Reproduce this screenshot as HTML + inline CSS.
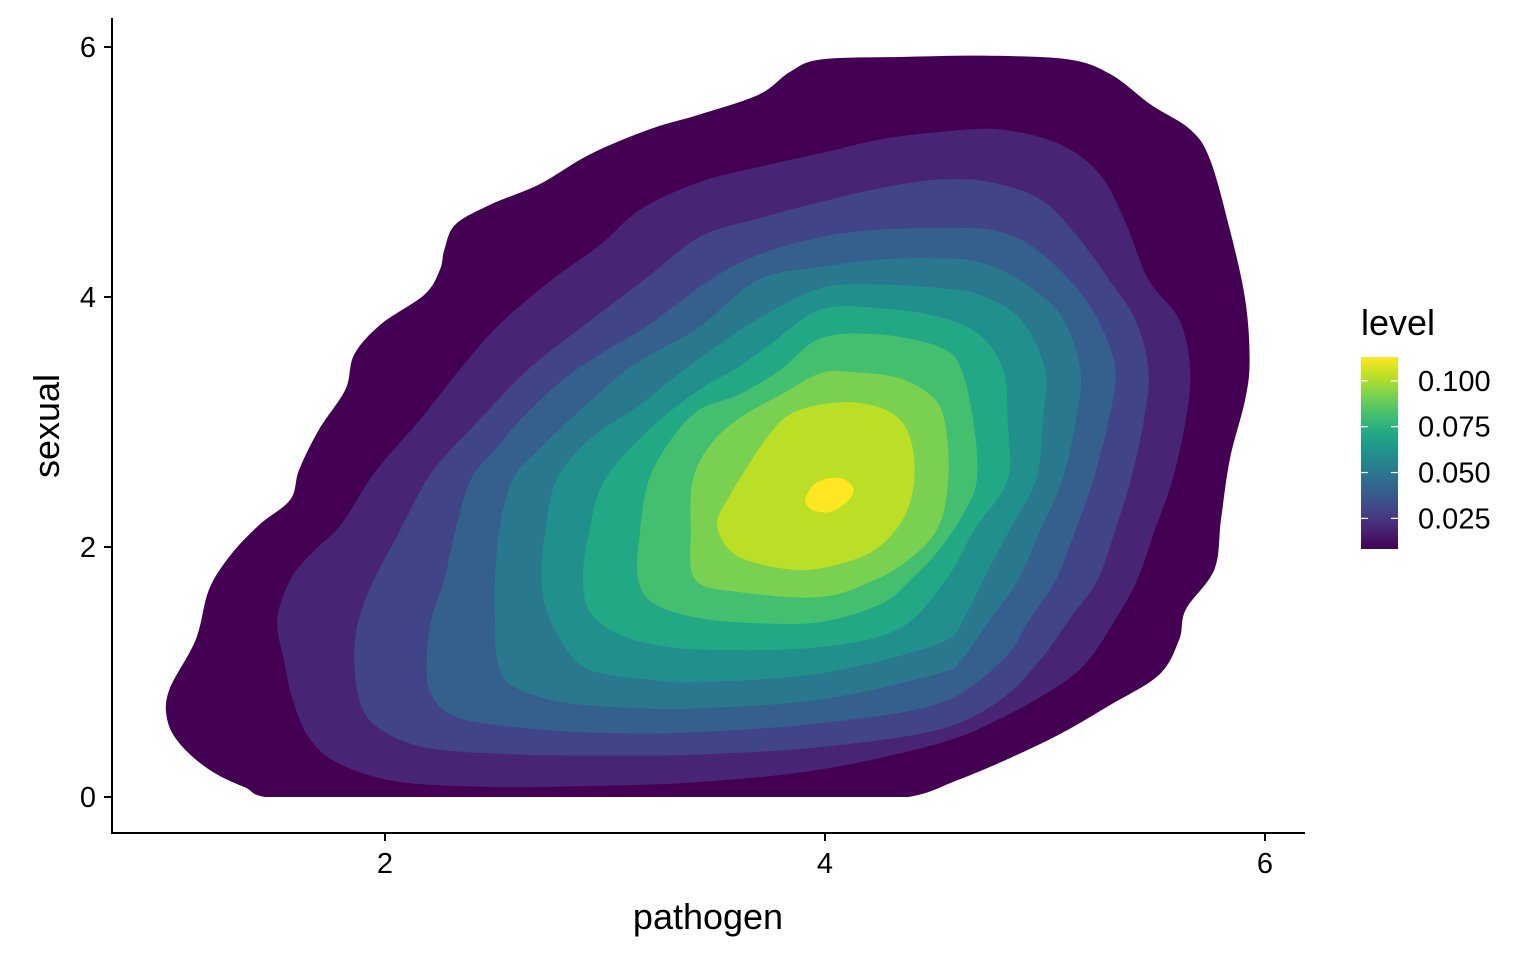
<!DOCTYPE html>
<html><head><meta charset="utf-8"><style>
html,body{margin:0;padding:0;background:#fff;}
svg{display:block;font-family:"Liberation Sans",Arial,sans-serif;}
</style></head><body>
<svg id="chart" width="1536" height="960" viewBox="0 0 1536 960">
<defs>
<clipPath id="plotclip"><rect x="112" y="10" width="1193" height="787"/></clipPath>
<linearGradient id="vir" x1="0" y1="1" x2="0" y2="0">
<stop offset="0" stop-color="#440154"/><stop offset="0.1" stop-color="#482475"/><stop offset="0.2" stop-color="#414487"/><stop offset="0.3" stop-color="#355F8D"/><stop offset="0.4" stop-color="#2A788E"/><stop offset="0.5" stop-color="#21908D"/><stop offset="0.6" stop-color="#22A884"/><stop offset="0.7" stop-color="#44BF70"/><stop offset="0.8" stop-color="#7AD151"/><stop offset="0.9" stop-color="#BBDF27"/><stop offset="1" stop-color="#FDE725"/>
</linearGradient>
</defs>
<g id="bands" clip-path="url(#plotclip)"></g>
<g id="axes"></g>
<g id="legend"></g>
</svg>
<script>
const xTicks = [2, 4, 6];
const yTicks = [0, 2, 4, 6];
const bandColors = ["#440154","#482475","#414487","#355F8D","#2A788E","#21908D","#22A884","#44BF70","#7AD151","#BBDF27","#FDE725"];
const legendTicks = [0.025, 0.05, 0.075, 0.1];
const legendTickLabels = ["0.025", "0.050", "0.075", "0.100"];
const legendDomain = [0.0083, 0.113];

const band1 = [[1.55,-0.02],[2.5,-0.1],[3.5,-0.1],[4.3,-0.02],[4.61,0.14],[5.02,0.46],[5.30,0.74],[5.52,0.98],[5.61,1.26],[5.64,1.50],[5.77,1.82],[5.80,2.22],[5.84,2.70],[5.91,3.18],[5.93,3.50],[5.91,3.98],[5.84,4.54],[5.75,5.10],[5.66,5.34],[5.48,5.54],[5.30,5.78],[5.11,5.90],[4.75,5.93],[4.34,5.92],[3.98,5.90],[3.84,5.80],[3.70,5.62],[3.43,5.46],[3.20,5.34],[2.93,5.14],[2.70,4.90],[2.48,4.74],[2.32,4.58],[2.27,4.38],[2.25,4.22],[2.18,4.02],[1.98,3.78],[1.86,3.54],[1.82,3.26],[1.70,2.94],[1.61,2.62],[1.57,2.38],[1.43,2.18],[1.30,1.94],[1.20,1.66],[1.14,1.26],[1.02,0.86],[1.01,0.62],[1.07,0.42],[1.20,0.22],[1.36,0.08]];
const band2 = [[1.66,0.46],[1.80,0.26],[2.07,0.12],[2.52,0.08],[2.98,0.09],[3.43,0.12],[3.98,0.22],[4.52,0.43],[4.80,0.63],[5.07,0.90],[5.20,1.10],[5.32,1.42],[5.42,1.74],[5.50,2.14],[5.58,2.54],[5.64,3.02],[5.66,3.42],[5.61,3.82],[5.47,4.14],[5.36,4.62],[5.25,4.98],[5.07,5.22],[4.80,5.34],[4.52,5.32],[4.25,5.26],[3.98,5.15],[3.70,5.04],[3.43,4.92],[3.16,4.70],[2.98,4.42],[2.76,4.14],[2.52,3.78],[2.34,3.42],[2.16,3.02],[2.02,2.74],[1.93,2.54],[1.80,2.18],[1.66,1.94],[1.57,1.74],[1.51,1.42],[1.54,1.10],[1.58,0.78]];
const band3 = [[1.89,0.74],[1.98,0.54],[2.20,0.39],[2.61,0.34],[3.07,0.33],[3.43,0.34],[3.98,0.40],[4.52,0.54],[4.80,0.78],[4.98,1.10],[5.11,1.42],[5.24,1.74],[5.32,2.14],[5.39,2.54],[5.45,3.02],[5.47,3.42],[5.41,3.82],[5.29,4.14],[5.14,4.50],[4.98,4.78],[4.75,4.92],[4.52,4.94],[4.25,4.87],[3.98,4.76],[3.70,4.63],[3.43,4.48],[3.18,4.14],[2.91,3.78],[2.65,3.42],[2.43,3.02],[2.30,2.78],[2.19,2.54],[2.07,2.14],[1.95,1.74],[1.88,1.42],[1.86,1.10]];
const band4 = [[2.19,1.10],[2.21,0.82],[2.34,0.63],[2.70,0.54],[3.07,0.51],[3.43,0.52],[3.98,0.59],[4.52,0.75],[4.81,1.10],[4.93,1.42],[5.05,1.74],[5.14,2.14],[5.22,2.54],[5.29,3.02],[5.32,3.42],[5.24,3.82],[5.11,4.14],[4.93,4.42],[4.75,4.54],[4.52,4.55],[4.25,4.54],[3.98,4.48],[3.70,4.34],[3.48,4.14],[3.20,3.78],[2.87,3.42],[2.66,3.10],[2.50,2.78],[2.39,2.54],[2.32,2.14],[2.27,1.74],[2.21,1.42]];
const band5 = [[2.51,1.10],[2.57,0.90],[2.80,0.76],[3.16,0.71],[3.43,0.71],[3.98,0.78],[4.52,0.99],[4.62,1.10],[4.75,1.42],[4.88,1.74],[4.98,2.14],[5.08,2.54],[5.14,3.02],[5.16,3.42],[5.07,3.86],[4.88,4.14],[4.70,4.28],[4.52,4.31],[4.25,4.30],[3.98,4.24],[3.70,4.14],[3.43,3.76],[3.25,3.58],[3.10,3.42],[2.89,3.10],[2.70,2.78],[2.58,2.54],[2.52,2.14],[2.50,1.74],[2.50,1.42]];
const band6 = [[2.86,1.10],[2.98,0.99],[3.20,0.94],[3.43,0.92],[3.98,0.99],[4.52,1.23],[4.64,1.46],[4.72,1.74],[4.84,2.14],[4.96,2.54],[4.99,3.02],[5.00,3.42],[4.89,3.82],[4.70,4.02],[4.52,4.07],[4.25,4.10],[3.98,4.07],[3.70,3.83],[3.43,3.51],[3.36,3.42],[3.16,3.14],[2.93,2.86],[2.78,2.54],[2.73,2.14],[2.71,1.74],[2.75,1.42]];
const band7 = [[2.90,1.74],[2.94,1.46],[3.11,1.27],[3.43,1.18],[3.98,1.20],[4.34,1.35],[4.55,1.74],[4.68,2.14],[4.83,2.54],[4.83,3.02],[4.81,3.42],[4.70,3.70],[4.52,3.84],[4.25,3.91],[3.98,3.90],[3.75,3.62],[3.59,3.42],[3.43,3.26],[3.20,2.94],[3.00,2.54],[2.93,2.14]];
const band8 = [[3.15,1.74],[3.23,1.54],[3.43,1.43],[3.70,1.39],[3.98,1.40],[4.25,1.54],[4.39,1.74],[4.52,1.98],[4.64,2.30],[4.69,2.54],[4.68,2.94],[4.62,3.42],[4.52,3.60],[4.25,3.70],[3.98,3.67],[3.80,3.42],[3.61,3.22],[3.43,3.10],[3.30,2.86],[3.20,2.54],[3.16,2.14]];
const band9 = [[3.41,1.74],[3.61,1.64],[3.98,1.60],[4.23,1.74],[4.41,1.94],[4.52,2.18],[4.56,2.54],[4.55,2.94],[4.50,3.18],[4.34,3.35],[4.11,3.40],[3.98,3.39],[3.80,3.22],[3.61,3.03],[3.48,2.82],[3.40,2.54],[3.39,2.14]];
const band10 = [[3.51,2.18],[3.59,1.94],[3.80,1.83],[3.98,1.83],[4.20,1.95],[4.34,2.18],[4.40,2.46],[4.40,2.78],[4.34,3.02],[4.20,3.14],[4.02,3.15],[3.84,3.06],[3.73,2.86],[3.64,2.62],[3.57,2.42]];
const band11 = [[3.91,2.38],[3.94,2.30],[4.02,2.28],[4.10,2.36],[4.13,2.46],[4.09,2.54],[4.02,2.55],[3.95,2.50]];
const bands = [band1,band2,band3,band4,band5,band6,band7,band8,band9,band10,band11];

const NS = "http://www.w3.org/2000/svg";
function xs(v){ return 385 + (v - 2) * 220; }
function ys(v){ return 797 - v * 125; }
function mk(tag, attrs, parent){ const e = document.createElementNS(NS, tag); for (const k in attrs) e.setAttribute(k, attrs[k]); parent.appendChild(e); return e; }
function smoothPath(pts){
  const p = pts.map(d => [xs(d[0]), ys(d[1])]);
  const n = p.length; let s = "M" + p[0][0].toFixed(1) + "," + p[0][1].toFixed(1);
  for (let i = 0; i < n; i++) {
    const p0 = p[(i - 1 + n) % n], p1 = p[i], p2 = p[(i + 1) % n], p3 = p[(i + 2) % n];
    const c1x = p1[0] + (p2[0] - p0[0]) / 6, c1y = p1[1] + (p2[1] - p0[1]) / 6;
    const c2x = p2[0] - (p3[0] - p1[0]) / 6, c2y = p2[1] - (p3[1] - p1[1]) / 6;
    s += "C" + c1x.toFixed(1) + "," + c1y.toFixed(1) + " " + c2x.toFixed(1) + "," + c2y.toFixed(1) + " " + p2[0].toFixed(1) + "," + p2[1].toFixed(1);
  }
  return s + "Z";
}
const gb = document.getElementById("bands");
bands.forEach((b, i) => {
  const el = mk("path", {d: smoothPath(b), fill: bandColors[i]}, gb);
  
  
});

const ga = document.getElementById("axes");
let e;
e = mk("line", {x1:112, y1:18, x2:112, y2:834, stroke:"#000", "stroke-width":2}, ga);


e = mk("line", {x1:111, y1:833, x2:1305, y2:833, stroke:"#000", "stroke-width":2}, ga);


xTicks.forEach(t => {
  e = mk("line", {x1:xs(t), y1:833, x2:xs(t), y2:841, stroke:"#000", "stroke-width":2}, ga);
  
  
  e = mk("text", {x:xs(t), y:873, "text-anchor":"middle", "font-size":29, fill:"#000"}, ga);
  e.textContent = t;
  
  
});
yTicks.forEach(t => {
  e = mk("line", {x1:104, y1:ys(t), x2:112, y2:ys(t), stroke:"#000", "stroke-width":2}, ga);
  
  
  e = mk("text", {x:96, y:ys(t) + 10, "text-anchor":"end", "font-size":29, fill:"#000"}, ga);
  e.textContent = t;
  
  
});
e = mk("text", {x:708, y:929, "text-anchor":"middle", "font-size":36, fill:"#000"}, ga);
e.textContent = "pathogen";


e = mk("text", {x:0, y:0, "text-anchor":"middle", "font-size":36, fill:"#000", transform:"translate(59,426) rotate(-90)"}, ga);
e.textContent = "sexual";



const gl = document.getElementById("legend");
const barTop = 357, barBot = 549, barX = 1361, barW = 37;
function ls(v){ return barBot - (v - legendDomain[0]) / (legendDomain[1] - legendDomain[0]) * (barBot - barTop); }
e = mk("text", {x:1361, y:335, "font-size":36, fill:"#000"}, gl);
e.textContent = "level";


e = mk("rect", {x:barX, y:barTop, width:barW, height:barBot - barTop, fill:"url(#vir)"}, gl);


legendTicks.forEach((t, i) => {
  const y = ls(t);
  e = mk("line", {x1:barX, y1:y, x2:barX + 7, y2:y, stroke:"#fff", "stroke-width":1.2}, gl);
  
  
  e = mk("line", {x1:barX + barW - 7, y1:y, x2:barX + barW, y2:y, stroke:"#fff", "stroke-width":1.2}, gl);
  
  
  e = mk("text", {x:1418, y:y + 10, "font-size":29, fill:"#000"}, gl);
  e.textContent = legendTickLabels[i];
  
  
});
</script>
</body></html>
